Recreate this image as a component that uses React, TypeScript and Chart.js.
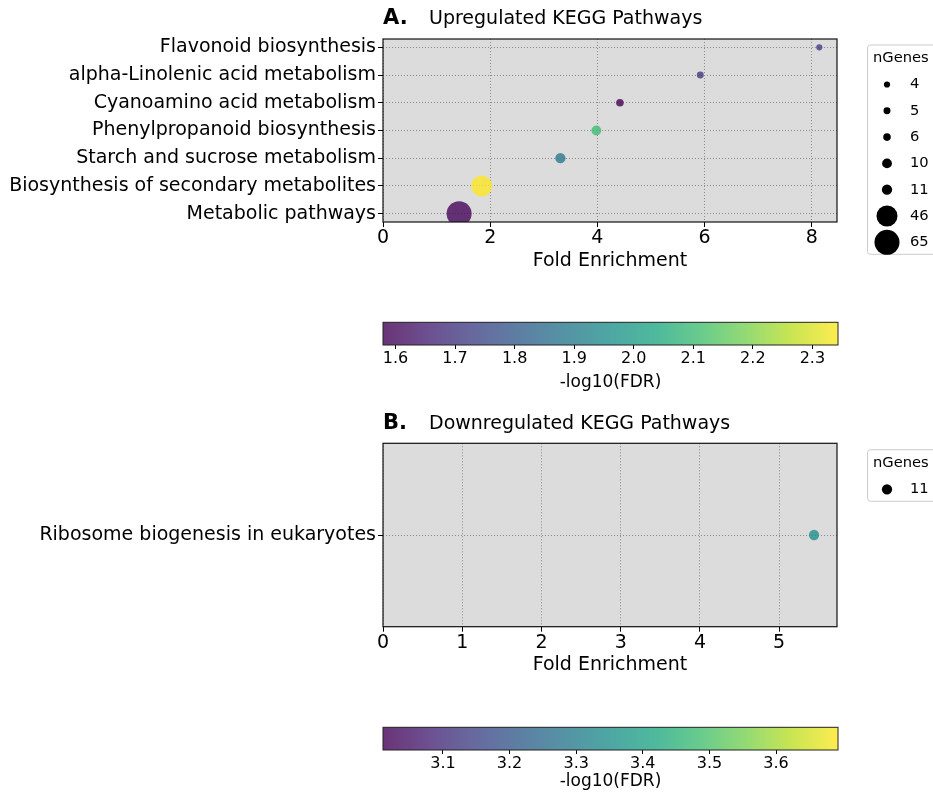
import React, { useEffect, useRef } from 'react';
import { Chart, registerables } from 'chart.js';

Chart.register(...registerables);

const FONT = 'DejaVu Sans';

// ---------- Data: Upregulated ----------
const upPathways = [
  'Flavonoid biosynthesis',
  'alpha-Linolenic acid metabolism',
  'Cyanoamino acid metabolism',
  'Phenylpropanoid biosynthesis',
  'Starch and sucrose metabolism',
  'Biosynthesis of secondary metabolites',
  'Metabolic pathways',
];
const upFoldEnrichment = [8.14, 5.92, 4.42, 3.98, 3.31, 1.84, 1.42];
const upGenes = [4, 5, 6, 10, 11, 46, 65];
const upNegLogFdr = [1.71, 1.70, 1.579, 2.1, 1.885, 2.343, 1.59];
const upXTicks = [0, 2, 4, 6, 8];
const upXMax = 8.47;
const upCbMin = 1.579;
const upCbMax = 2.343;
const upCbTicks = [1.6, 1.7, 1.8, 1.9, 2.0, 2.1, 2.2, 2.3];

// ---------- Data: Downregulated ----------
const downPathways = ['Ribosome biogenesis in eukaryotes'];
const downFoldEnrichment = [5.44];
const downGenes = [11];
const downNegLogFdr = [3.35];
const downXTicks = [0, 1, 2, 3, 4, 5];
const downXMax = 5.73;
const downCbMin = 3.01;
const downCbMax = 3.693;
const downCbTicks = [3.1, 3.2, 3.3, 3.4, 3.5, 3.6];

// ---------- Styles ----------
const VIRIDIS = ['#440154', '#482475', '#414487', '#355f8d', '#2a788e', '#21918c', '#22a884', '#44bf70', '#7ad151', '#bddf26', '#fde725'];
const ALPHA = 0.8;
const GRID = '#8a8a8a';

function hexRgb(h: string) {
  return [parseInt(h.slice(1, 3), 16), parseInt(h.slice(3, 5), 16), parseInt(h.slice(5, 7), 16)];
}
function viridis(t: number, alpha: number) {
  const tt = Math.max(0, Math.min(1, t));
  const n = VIRIDIS.length - 1;
  const p = tt * n;
  const i = Math.min(Math.floor(p), n - 1);
  const f = p - i;
  const a = hexRgb(VIRIDIS[i]);
  const b = hexRgb(VIRIDIS[i + 1]);
  const c = a.map((v, k) => Math.round(v + (b[k] - v) * f));
  return `rgba(${c[0]},${c[1]},${c[2]},${alpha})`;
}
const sizeRadius = (n: number) => 1.55 * Math.sqrt(n);

const panelPlugin = {
  id: 'panel',
  beforeDraw(chart: any, _a: any, o: any) {
    if (!o || !o.bg) return;
    const { ctx, chartArea: a } = chart;
    ctx.save();
    ctx.fillStyle = o.bg;
    ctx.fillRect(a.left, a.top, a.width, a.height);
    ctx.restore();
  },
  afterDatasetsDraw(chart: any, _a: any, o: any) {
    const { ctx, chartArea: a } = chart;
    ctx.save();
    ctx.strokeStyle = (o && o.frameColor) || '#000';
    ctx.lineWidth = (o && o.frameWidth) || 1;
    ctx.strokeRect(a.left, a.top, a.width, a.height);
    ctx.restore();
  },
  afterDraw(chart: any, _a: any, o: any) {
    if (!o) return;
    const { ctx } = chart;
    ctx.save();
    if (o.letter) {
      ctx.fillStyle = '#000';
      ctx.textBaseline = 'alphabetic';
      ctx.textAlign = 'left';
      ctx.font = `bold 21px "${FONT}"`;
      ctx.fillText(o.letter, o.letterX, o.titleBaseline);
      ctx.font = `19px "${FONT}"`;
      ctx.fillText(o.title, o.titleX, o.titleBaseline);
    }
    if (o.legend) {
      const L = o.legend;
      ctx.fillStyle = 'rgba(255,255,255,0.8)';
      ctx.strokeStyle = '#cccccc';
      ctx.lineWidth = 1;
      ctx.beginPath();
      ctx.roundRect(L.left, L.top, 120, L.bottom - L.top, 3);
      ctx.fill();
      ctx.stroke();
      ctx.fillStyle = '#000';
      ctx.textBaseline = 'middle';
      ctx.textAlign = 'left';
      ctx.font = `14.7px "${FONT}"`;
      ctx.fillText(L.title, L.titleX, L.titleY);
      L.entries.forEach((e: any, i: number) => {
        const y = L.firstY + i * L.step;
        ctx.beginPath();
        ctx.arc(L.dotX, y, e.r, 0, Math.PI * 2);
        ctx.fill();
        ctx.fillText(e.label, L.labelX, y);
      });
    }
    ctx.restore();
  },
};

function scatterConfig(p: any) {
  const font = { family: FONT, size: 19 };
  const legendValues = Array.from(new Set<number>(p.genes)).sort((a, b) => a - b);
  return {
    type: 'scatter',
    data: {
      datasets: [
        {
          data: p.fold.map((x: number, i: number) => ({ x, y: i })),
          pointRadius: p.genes.map(sizeRadius),
          pointHoverRadius: p.genes.map(sizeRadius),
          pointBackgroundColor: p.fdr.map((v: number) => viridis((v - p.cbMin) / (p.cbMax - p.cbMin), ALPHA)),
          pointBorderWidth: 0,
        },
      ],
    },
    options: {
      animation: false,
      responsive: false,
      events: [],
      layout: { padding: { left: 0, top: p.areaTop, right: 96, bottom: p.bottomPad } },
      plugins: {
        legend: { display: false },
        tooltip: { enabled: false },
        panel: {
          bg: '#dcdcdc',
          frameColor: '#111',
          frameWidth: 1.2,
          letter: p.letter,
          letterX: 383,
          title: p.title,
          titleX: 429,
          titleBaseline: p.titleBaseline,
          legend: {
            left: 867.5,
            top: p.legendTitleY - 13,
            bottom: p.legendFirstY + (legendValues.length - 1) * 26.3 + 12,
            title: 'nGenes',
            titleX: 873,
            titleY: p.legendTitleY,
            firstY: p.legendFirstY,
            step: 26.3,
            dotX: 887,
            labelX: 910,
            entries: legendValues.map((n) => ({ r: sizeRadius(n), label: String(n) })),
          },
        },
      },
      scales: {
        x: {
          type: 'linear',
          min: 0,
          max: p.xMax,
          afterBuildTicks: (s: any) => {
            s.ticks = p.xTicks.map((value: number) => ({ value }));
          },
          afterFit: (s: any) => {
            s.height = 50;
          },
          ticks: { font, color: '#000', padding: 0, autoSkip: false, maxRotation: 0, callback: (v: number) => String(v) },
          grid: { color: GRID, lineWidth: 1, tickColor: '#000', tickLength: 5, tickWidth: 1 },
          border: { display: false, dash: [1, 2] },
          title: { display: true, text: 'Fold Enrichment', font, color: '#000', padding: 0 },
        },
        y: {
          type: 'linear',
          reverse: true,
          min: p.yMin,
          max: p.yMax,
          afterBuildTicks: (s: any) => {
            s.ticks = p.pathways.map((_: string, i: number) => ({ value: i }));
          },
          afterFit: (s: any) => {
            s.width = 383;
          },
          ticks: { font, color: '#000', padding: 2, autoSkip: false, callback: (v: number) => p.pathways[v] ?? '' },
          grid: { color: GRID, lineWidth: 1, tickColor: '#000', tickLength: 5, tickWidth: 1 },
          border: { display: false, dash: [1, 2] },
        },
      },
    },
    plugins: [panelPlugin],
  };
}

function colorbarConfig(p: any) {
  return {
    type: 'bar',
    data: {
      labels: ['cb'],
      datasets: [
        {
          data: [[p.min, p.max]],
          backgroundColor: (c: any) => {
            const ch = c.chart;
            if (!ch.chartArea) return 'transparent';
            const xs = ch.scales.x;
            const g = ch.ctx.createLinearGradient(xs.getPixelForValue(p.min), 0, xs.getPixelForValue(p.max), 0);
            VIRIDIS.forEach((_, i) => g.addColorStop(i / (VIRIDIS.length - 1), viridis(i / (VIRIDIS.length - 1), ALPHA)));
            return g;
          },
          borderWidth: 0,
          borderSkipped: false,
          barPercentage: 1,
          categoryPercentage: 1,
        },
      ],
    },
    options: {
      indexAxis: 'y',
      animation: false,
      responsive: false,
      events: [],
      layout: { padding: { left: 383, right: 95, top: p.areaTop, bottom: p.bottomPad } },
      plugins: { legend: { display: false }, tooltip: { enabled: false }, panel: { frameColor: '#222', frameWidth: 1 } },
      scales: {
        x: {
          type: 'linear',
          min: p.min,
          max: p.max,
          afterBuildTicks: (s: any) => {
            s.ticks = p.ticks.map((value: number) => ({ value }));
          },
          afterFit: (s: any) => {
            s.height = p.axisH;
          },
          ticks: { font: { family: FONT, size: 16 }, color: '#000', padding: 0, autoSkip: false, maxRotation: 0, callback: (v: number) => Number(v).toFixed(1) },
          grid: { drawOnChartArea: false, tickColor: '#000', tickLength: 4, tickWidth: 1 },
          border: { display: false },
          title: { display: true, text: '-log10(FDR)', font: { family: FONT, size: 17 }, color: '#000', padding: 0 },
        },
        y: { display: false },
      },
    },
    plugins: [panelPlugin],
  };
}

function ChartCanvas({ top, height, config }: { top: number; height: number; config: () => any }) {
  const ref = useRef<HTMLCanvasElement | null>(null);
  useEffect(() => {
    if (!ref.current) return;
    const chart = new Chart(ref.current, config());
    return () => chart.destroy();
  }, []);
  return (
    <canvas
      ref={ref}
      width={933}
      height={height}
      style={{ position: 'absolute', left: 0, top, width: 933, height, display: 'block' }}
    />
  );
}

export default function App() {
  return (
    <div style={{ position: 'absolute', left: 0, top: 0, width: 933, height: 792, overflow: 'hidden', background: '#fff' }}>
      <ChartCanvas
        top={0}
        height={300}
        config={() =>
          scatterConfig({
            pathways: upPathways,
            fold: upFoldEnrichment,
            genes: upGenes,
            fdr: upNegLogFdr,
            cbMin: upCbMin,
            cbMax: upCbMax,
            xTicks: upXTicks,
            xMax: upXMax,
            yMin: -0.3,
            yMax: 6.3,
            areaTop: 39,
            bottomPad: 28,
            letter: 'A.',
            title: 'Upregulated KEGG Pathways',
            titleBaseline: 24.3,
            legendTitleY: 58,
            legendFirstY: 84.5,
          })
        }
      />
      <ChartCanvas
        top={300}
        height={100}
        config={() =>
          colorbarConfig({ min: upCbMin, max: upCbMax, ticks: upCbTicks, areaTop: 22.3, bottomPad: 7, axisH: 48 })
        }
      />
      <ChartCanvas
        top={400}
        height={300}
        config={() =>
          scatterConfig({
            pathways: downPathways,
            fold: downFoldEnrichment,
            genes: downGenes,
            fdr: downNegLogFdr,
            cbMin: downCbMin,
            cbMax: downCbMax,
            xTicks: downXTicks,
            xMax: downXMax,
            yMin: -1,
            yMax: 1,
            areaTop: 43.3,
            bottomPad: 23.3,
            letter: 'B.',
            title: 'Downregulated KEGG Pathways',
            titleBaseline: 29.3,
            legendTitleY: 62.7,
            legendFirstY: 89.3,
          })
        }
      />
      <ChartCanvas
        top={700}
        height={92}
        config={() =>
          colorbarConfig({ min: downCbMin, max: downCbMax, ticks: downCbTicks, areaTop: 27.3, bottomPad: 0, axisH: 42 })
        }
      />
    </div>
  );
}
